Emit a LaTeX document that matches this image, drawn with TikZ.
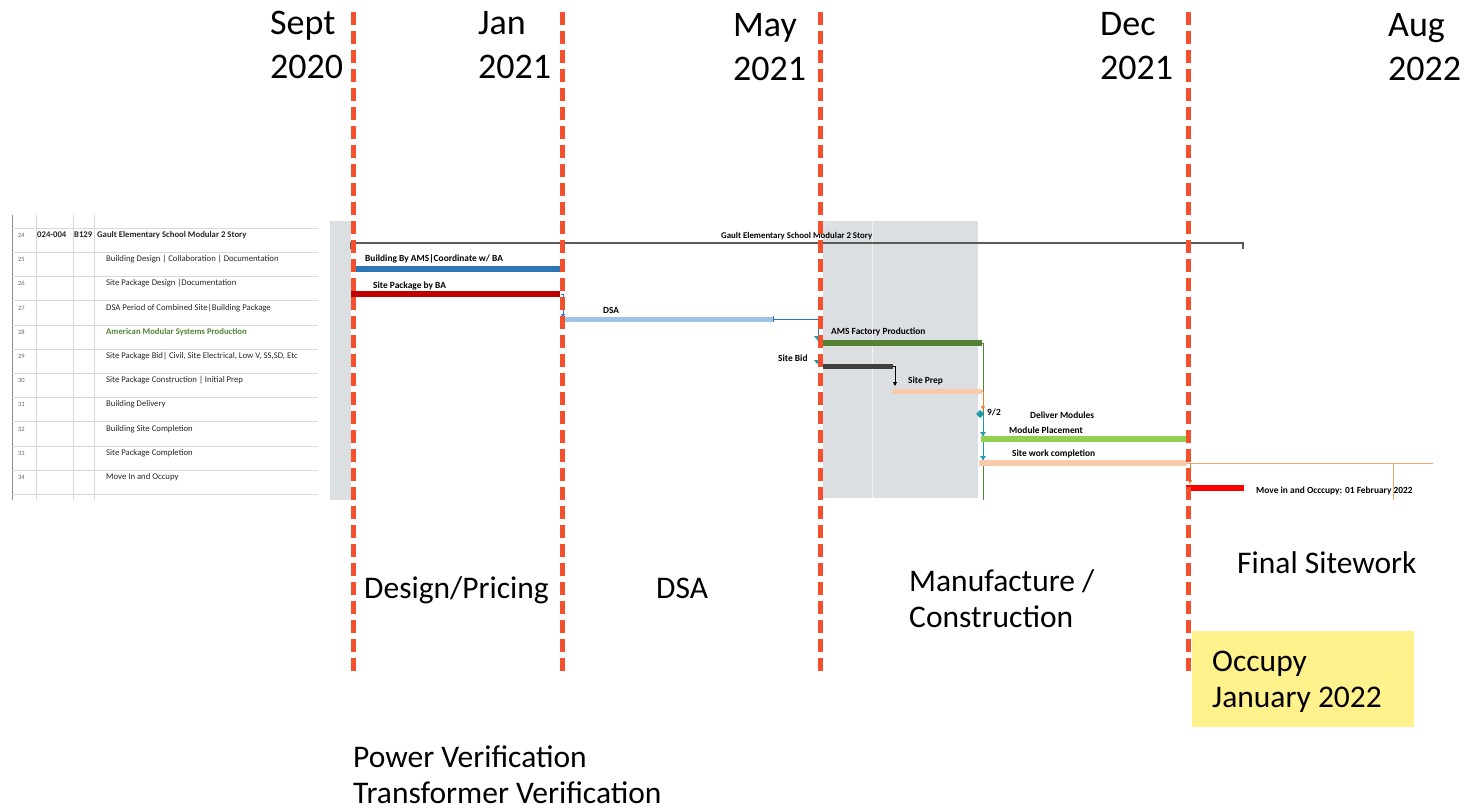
\documentclass[tikz,border=0pt]{standalone}
\usepackage{fontspec}
\setmainfont{Carlito}
\usetikzlibrary{arrows.meta}
\definecolor{dashred}{HTML}{F4502E}
\definecolor{occyellow}{HTML}{FFF18C}
\definecolor{ganttgrey}{HTML}{DCDFE2}
\definecolor{barblue}{HTML}{2E75B6}
\definecolor{barred}{HTML}{C00000}
\definecolor{barlblue}{HTML}{9DC3E6}
\definecolor{bargreen}{HTML}{548235}
\definecolor{barlgreen}{HTML}{92D050}
\definecolor{barpeach}{HTML}{F8CBAD}
\definecolor{linkorange}{HTML}{ED7D31}
\definecolor{linkteal}{HTML}{1F9AA8}
\definecolor{bardark}{HTML}{404040}
\tikzset{
  phase/.style={dashred, line width=5pt, dash pattern=on 13pt off 6pt},
  biglabel/.style={font=\fontsize{36}{44}\selectfont, inner sep=0pt, anchor=base west},
  midlabel/.style={font=\fontsize{31.5}{36}\selectfont, inner sep=0pt, anchor=base west},
  glabel/.style={font=\fontsize{9.4}{11}\selectfont\bfseries, inner sep=0pt, anchor=base west},
  tlabel/.style={font=\fontsize{8.7}{10}\selectfont, inner sep=0pt, anchor=base west, text=black!85},
  rnum/.style={font=\fontsize{6.5}{8}\selectfont, inner sep=0pt, anchor=base west, text=black!60},
  gridline/.style={draw=black!15, line width=0.6pt},
  thinlink/.style={line width=0.7pt},
  tip/.style={-{Triangle[length=4pt,width=4pt]}},
}
\newcommand\twolines[2]{\begin{tabular}[t]{@{}l@{}}#1\\#2\end{tabular}}
\begin{document}
\begin{tikzpicture}[x=1pt,y=-1pt]
\useasboundingbox (0,0) rectangle (1466,809);

% ---------- Gantt screenshot: table ----------
\draw[black!45, line width=0.8pt] (12,215) -- (12,500);
\foreach \cx in {36,73,94} \draw[gridline] (\cx,215) -- (\cx,500);
\foreach \k in {0,...,11} \draw[gridline] (12,228+24.2*\k) -- (318,228+24.2*\k);

\node[rnum] (n24) at (18,237.5) {24};
\node[tlabel,font=\fontsize{8.7}{10}\selectfont\bfseries] (c24) at (37,237.5) {024-004};
\node[tlabel,font=\fontsize{8.7}{10}\selectfont\bfseries] (b24) at (74,237.5) {B129};
\node[tlabel,font=\fontsize{8.7}{10}\selectfont\bfseries] (t24) at (97,237.5) {Gault Elementary School Modular 2 Story};

\foreach \k/\txt in {1/Building Design | Collaboration | Documentation,
  2/Site Package Design |Documentation,
  3/DSA Period of Combined Site|Building Package,
  5/{Site Package Bid| Civil, Site Electrical, Low V, SS,SD, Etc},
  6/Site Package Construction | Initial Prep,
  7/Building Delivery,
  8/Building Site Completion,
  9/Site Package Completion,
  10/Move In and Occupy}
  \node[tlabel] (t\k) at (106,237.5+24.2*\k) {\txt};
\node[tlabel,font=\fontsize{8.7}{10}\selectfont\bfseries,text=bargreen] (t4) at (106,237.5+24.2*4) {American Modular Systems Production};
\foreach \k in {1,...,10} {
  \pgfmathtruncatemacro\rn{24+\k}
  \node[rnum] (n\rn) at (18,237.5+24.2*\k) {\rn};
}

% ---------- Gantt screenshot: chart ----------
\fill[ganttgrey] (330,221) rectangle (351,500);
\fill[ganttgrey] (823,221) rectangle (978,498);
\draw[white!60!ganttgrey, line width=1pt] (872,221) -- (872,498);

% summary bar
\draw[black!65, line width=2pt] (351,243) -- (1243,243);
\draw[black!65, line width=1.5pt] (351,242) -- (351,249);
\draw[black!65, line width=1.5pt] (1243,242) -- (1243,249);
\node[glabel,font=\fontsize{8.8}{10}\selectfont\bfseries] (gault) at (721,238.5) {Gault Elementary School Modular 2 Story};

% bars
\fill[barblue] (351,266) rectangle (560,272);
\node[glabel] (lbuild) at (365,261.5) {Building By AMS|Coordinate w/ BA};
\fill[barred] (351,291) rectangle (560,297);
\node[glabel] (lsite) at (373,288.5) {Site Package by BA};
\draw[barblue, thinlink, tip] (561,294) -- (563,294) -- (563,318);
\fill[barlblue] (560,316.5) rectangle (773,321.5);
\node[glabel] (ldsa) at (603,313.5) {DSA};
\draw[barblue, thinlink] (773,316) -- (773,322);
\draw[barblue, thinlink] (773,319) -- (818,319) -- (818,336);
\fill[linkteal] (814,336) -- (822,336) -- (818,341) -- cycle;

\fill[bargreen] (823,340) rectangle (982,346);
\node[glabel] (lams) at (831,334.5) {AMS Factory Production};
\draw[bargreen, thinlink] (982,343) -- (983,343) -- (983,500);

\node[glabel] (lbid) at (778,361.5) {Site Bid};
\fill[linkteal] (814,360) -- (820,360) -- (817,364) -- cycle;
\fill[bardark] (823,363.5) rectangle (893,368.5);
\draw[black, thinlink, tip] (893,366) -- (895,366) -- (895,386);
\fill[barpeach] (892,388.5) rectangle (982,393.5);
\node[glabel] (lprep) at (908,383.5) {Site Prep};
\draw[linkorange, thinlink, tip] (982,391) -- (983,391) -- (983,410);

\fill[linkteal] (980,410) -- (984,414) -- (980,418) -- (976,414) -- cycle;
\node[glabel] (lnine) at (987,415.5) {9/2};
\node[glabel] (ldeliver) at (1030,418.5) {Deliver Modules};
\draw[linkteal, thinlink] (983,414) -- (983,458);
\fill[linkteal] (980,432) -- (986,432) -- (983,436) -- cycle;
\fill[linkteal] (980,456) -- (986,456) -- (983,460) -- cycle;

\fill[barlgreen] (981,436) rectangle (1187,442);
\node[glabel] (lplace) at (1009,433.5) {Module Placement};
\fill[barpeach] (979,460) rectangle (1187,466);
\node[glabel] (lwork) at (1012,456.5) {Site work completion};
\draw[linkorange!70, thinlink] (1187,463) -- (1433,463);
\draw[linkorange!70, thinlink] (1393,463) -- (1393,500);
\draw[linkorange, thinlink, tip] (1190,463) -- (1190,484);
\fill[red] (1186,485) rectangle (1244,491);
\node[glabel] (lmove) at (1256,493.5) {Move in and Occcupy: 01 February 2022};

% ---------- Occupy box ----------
\fill[occyellow] (1192,631) rectangle (1414,727);

% ---------- phase boundaries ----------
\coordinate (p1t) at (353,12);  \coordinate (p1b) at (353,672);
\coordinate (p2t) at (562,12);  \coordinate (p2b) at (562,672);
\coordinate (p3t) at (820,12);  \coordinate (p3b) at (820,672);
\coordinate (p4t) at (1188,12); \coordinate (p4b) at (1188,672);
\draw[phase] (p1t) -- (p1b);
\draw[phase] (p2t) -- (p2b);
\draw[phase] (p3t) -- (p3b);
\draw[phase] (p4t) -- (p4b);

% ---------- date labels ----------
\node[biglabel] (sept) at (270,34) {\twolines{Sept}{2020}};
\node[biglabel] (jan) at (478,34) {\twolines{Jan}{2021}};
\node[biglabel] (may) at (733,36) {\twolines{May}{2021}};
\node[biglabel] (dec) at (1100,35) {\twolines{Dec}{2021}};
\node[biglabel] (aug) at (1388,36) {\twolines{Aug}{2022}};

% ---------- phase labels ----------
\node[midlabel] (design) at (364,598) {Design/Pricing};
\node[midlabel] (dsa) at (656,598) {DSA};
\node[midlabel] (manuf) at (909,591) {\twolines{Manufacture /}{Construction}};
\node[midlabel] (final) at (1237,573) {Final Sitework};
\node[midlabel] (occupy) at (1212,671.5) {\twolines{Occupy}{January 2022}};
\node[midlabel] (power) at (353,767) {\twolines{Power Verification}{Transformer Verification}};
\end{tikzpicture}
\end{document}
